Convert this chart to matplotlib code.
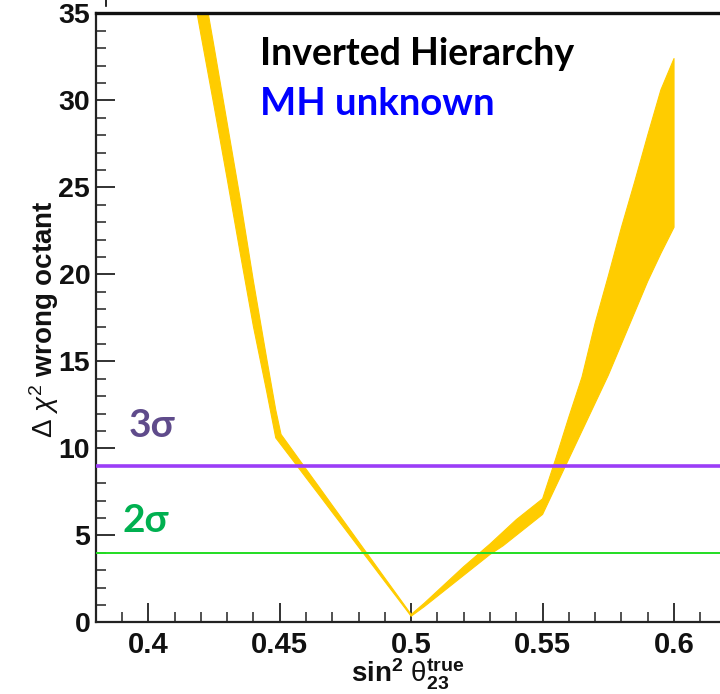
import matplotlib
matplotlib.use("Agg")
import matplotlib.pyplot as plt
import numpy as np
from matplotlib.ticker import MultipleLocator
from matplotlib.lines import Line2D

plt.rcParams['font.family'] = ['Liberation Sans', 'DejaVu Sans']
plt.rcParams['mathtext.fontset'] = 'custom'
plt.rcParams['mathtext.rm'] = 'Liberation Sans'
plt.rcParams['mathtext.bf'] = 'Liberation Sans:bold'
plt.rcParams['mathtext.it'] = 'Liberation Sans:italic'

# sin^2 theta23 (true) grid and the band edges of Delta chi^2 (wrong octant)
sin2_true = [0.415, 0.42, 0.425, 0.43, 0.435, 0.44, 0.445, 0.4485, 0.4505, 0.455, 0.46,
             0.465, 0.47, 0.475, 0.48, 0.485, 0.49, 0.495, 0.5, 0.505, 0.51,
             0.515, 0.52, 0.525, 0.53, 0.535, 0.54, 0.545, 0.55, 0.555, 0.56,
             0.565, 0.57, 0.575, 0.58, 0.585, 0.59, 0.595, 0.6]
dchi2_low = [38.0, 33.8, 29.7, 25.5, 21.2, 17.0, 13.3, 10.6, 10.2, 9.31, 8.31,
             7.32, 6.32, 5.33, 4.33, 3.34, 2.34, 1.35, 0.35, 0.9, 1.5,
             2.1, 2.7, 3.3, 3.9, 4.4, 5.0, 5.6, 6.2, 7.8, 9.4,
             11.0, 12.6, 14.2, 16.0, 17.8, 19.6, 21.2, 22.7]
dchi2_high = [41.8, 37.4, 33.1, 28.7, 24.3, 19.6, 15.2, 12.2, 10.8, 9.86, 8.81,
              7.77, 6.72, 5.68, 4.63, 3.59, 2.54, 1.50, 0.45, 1.1, 1.8,
              2.5, 3.2, 3.85, 4.5, 5.2, 5.9, 6.5, 7.1, 9.4, 11.8,
              14.1, 17.2, 19.9, 22.7, 25.3, 28.0, 30.6, 32.4]

sigma_levels = [9, 4]
sigma_labels = ["3σ", "2σ"]
title_lines = ["Inverted Hierarchy", "MH unknown"]

xlim = (0.38, 0.62)
ylim = (0, 35)

fig = plt.figure(figsize=(7.2, 6.94), dpi=100)
W, H = 720, 694
ax = fig.add_axes([95.7 / W, (H - 622.3) / H, (726.6 - 95.7) / W, (622.3 - 13.3) / H])
ax.set_xlim(*xlim)
ax.set_ylim(*ylim)

ax.fill_between(sin2_true, dchi2_low, dchi2_high, color='#FFCC00', linewidth=0.8,
                edgecolor='#FFCC00', zorder=2)

ax.axhline(sigma_levels[0], color='#9B3DF7', linewidth=2.6, zorder=3)
ax.axhline(sigma_levels[1], color='#22DD22', linewidth=1.4, zorder=3)

# ticks
ax.xaxis.set_major_locator(MultipleLocator(0.05))
ax.xaxis.set_minor_locator(MultipleLocator(0.01))
ax.yaxis.set_major_locator(MultipleLocator(5))
ax.yaxis.set_minor_locator(MultipleLocator(1))
ax.tick_params(axis='both', which='major', direction='in', length=13.5, width=1.3,
               color='#222222')
ax.tick_params(axis='both', which='minor', direction='in', length=7.2, width=1.2,
               color='#333333')
ax.tick_params(axis='y', which='major', labelsize=20.5, pad=4)
ax.tick_params(axis='x', which='major', labelsize=21, pad=6)
ax.tick_params(top=False, right=False, which='both')
ax.set_xticks([0.4, 0.45, 0.5, 0.55, 0.6])
ax.set_xticklabels(['0.4', '0.45', '0.5', '0.55', '0.6'])
for lab in ax.get_xticklabels() + ax.get_yticklabels():
    lab.set_fontweight('bold')
    lab.set_color('#111111')

for side in ['left', 'bottom']:
    ax.spines[side].set_linewidth(1.6)
    ax.spines[side].set_color('#222222')
ax.spines['top'].set_linewidth(2.4)
ax.spines['top'].set_color('#111111')
ax.spines['right'].set_visible(False)

# annotations
ax.text(0.4426, 32.03, title_lines[0], fontsize=27, fontweight='bold',
        family=['Lato', 'DejaVu Sans'], color='black', va='baseline', ha='left')
ax.text(0.4426, 29.16, title_lines[1], fontsize=27.5, fontweight='bold',
        family=['Lato', 'DejaVu Sans'], color='#0000FF', va='baseline', ha='left')
ax.text(0.3924, 10.66, sigma_labels[0], fontsize=28, fontweight='bold',
        family=['Lato', 'DejaVu Sans'], color='#5F4B8B', va='baseline', ha='left')
ax.text(0.3901, 5.19, sigma_labels[1], fontsize=28, fontweight='bold',
        family=['Lato', 'DejaVu Sans'], color='#00B050', va='baseline', ha='left')

# axis titles
fig.text(408 / W, 1 - 683 / H,
         r"$\mathbf{sin}^{\mathbf{2}}\ \mathrm{\theta}_{\mathbf{23}}^{\mathbf{true}}$",
         fontsize=20, ha='center', va='baseline', color='#111111')
fig.text(44 / W, 1 - 319.5 / H, r"$\Delta\ \chi^{2}$ wrong octant", rotation=90,
         fontsize=20, fontweight='bold', ha='center', va='center', color='#111111')

# cropped remnant of the frame above the plot
fig.add_artist(Line2D([106 / W, 106 / W], [1.0, 1 - 6 / H], color='black', linewidth=1.2))

fig.savefig("out.png", dpi=100)
